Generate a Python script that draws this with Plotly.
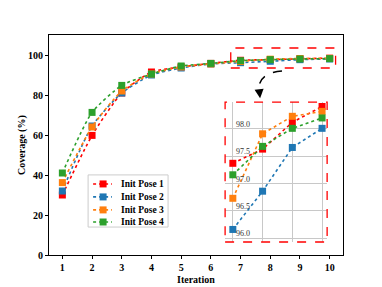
import plotly.graph_objects as go

iterations = [1, 2, 3, 4, 5, 6, 7, 8, 9, 10]
pose1 = [30.0, 59.8, 81.0, 91.5, 94.0, 95.8, 97.37, 97.63, 98.12, 98.41]
pose2 = [32.0, 64.5, 81.0, 90.0, 93.5, 95.5, 96.16, 96.86, 97.66, 98.01]
pose3 = [36.2, 64.0, 82.0, 90.5, 94.0, 95.5, 96.73, 97.91, 98.23, 98.32]
pose4 = [41.0, 71.3, 84.8, 90.5, 94.5, 95.8, 97.16, 97.68, 98.01, 98.20]
names = ["Init Pose 1", "Init Pose 2", "Init Pose 3", "Init Pose 4"]
colors = ["#ff0000", "#1f77b4", "#ff7f0e", "#2ca02c"]
series = [pose1, pose2, pose3, pose4]
inset_ticks = [96.0, 96.5, 97.0, 97.5, 98.0]
main_yticks = [0, 20, 40, 60, 80, 100]

FONT = "Liberation Serif"
fig = go.Figure()
for name, col, ys in zip(names, colors, series):
    fig.add_trace(go.Scatter(
        x=iterations, y=ys, name=name, mode="lines+markers", showlegend=False,
        line=dict(color=col, width=1.6, dash="dot", shape="spline", smoothing=0.6),
        marker=dict(symbol="square", size=7, color=col),
        xaxis="x", yaxis="y"))
for name, col, ys in zip(names, colors, series):
    fig.add_trace(go.Scatter(
        x=iterations[6:], y=ys[6:], name=name, mode="lines+markers", showlegend=False,
        line=dict(color=col, width=1.6, dash="dot"),
        marker=dict(symbol="square", size=7, color=col),
        xaxis="x2", yaxis="y2"))

axis_common = dict(showline=True, linecolor="black", linewidth=1, mirror=True,
                   ticks="outside", ticklen=3, tickcolor="black", showgrid=False,
                   zeroline=False, automargin=False,
                   tickfont=dict(family=FONT, size=10, color="black", weight="bold"))

# page body has an 8px margin, so the figure is offset by 8px
fig.update_layout(
    width=374, height=279,
    margin=dict(l=41, r=39, t=27, b=32),
    paper_bgcolor="white", plot_bgcolor="white",
    font=dict(family=FONT, color="black"),
    showlegend=False,
    xaxis=dict(range=[0.55, 10.45], tickvals=iterations, **axis_common),
    yaxis=dict(range=[0, 110], tickvals=main_yticks, **axis_common),
    xaxis2=dict(domain=[0.599, 0.946], anchor="y2", range=[6.74, 10.17],
                tickvals=[7, 8, 9, 10], showticklabels=False, showgrid=True,
                gridcolor="#c8c8c8", gridwidth=1, zeroline=False, showline=False, ticks=""),
    yaxis2=dict(domain=[0.059, 0.695], anchor="x2", range=[95.93, 98.49],
                tickvals=inset_ticks, showticklabels=False, showgrid=True,
                gridcolor="#c8c8c8", gridwidth=1, zeroline=False, showline=False, ticks=""),
)

# axis titles
fig.add_annotation(x=0.5, y=-0.11, xref="paper", yref="paper", text="Iteration", showarrow=False,
                   xanchor="center", yanchor="middle",
                   font=dict(family=FONT, size=10, color="black", weight="bold"))
fig.add_annotation(x=-0.092, y=0.5, xref="paper", yref="paper", text="Coverage (%)", showarrow=False,
                   xanchor="center", yanchor="middle", textangle=-90,
                   font=dict(family=FONT, size=10, color="black", weight="bold"))

# inset tick labels inside
for v in inset_ticks:
    fig.add_annotation(x=7, y=v, xref="x2", yref="y2", text=f"{v:.1f}", showarrow=False,
                       xanchor="left", yanchor="bottom", xshift=1, yshift=-2,
                       font=dict(family=FONT, size=8, color="#333333"))

# inset border
fig.add_shape(type="rect", xref="x2 domain", yref="y2 domain", x0=0, x1=1, y0=0, y1=1,
              line=dict(color="red", width=1.3, dash="dash"), fillcolor="rgba(0,0,0,0)")
# zoom box on main plot
fig.add_shape(type="rect", xref="x", yref="y", x0=6.67, x1=10.2, y0=93.5, y1=103.5,
              line=dict(color="red", width=1.3, dash="dash"), fillcolor="rgba(0,0,0,0)")
# curved dashed arrow
fig.add_shape(type="path", xref="paper", yref="paper",
              path="M 0.7925,0.836 Q 0.711,0.827 0.714,0.75",
              line=dict(color="black", width=1.5, dash="dash"))
fig.add_annotation(x=0.718, y=0.712, xref="paper", yref="paper", ax=-1, ay=-9,
                   text="", showarrow=True, arrowhead=2, arrowsize=1.3, arrowwidth=1.4,
                   arrowcolor="black")

# compact legend
fig.add_shape(type="rect", xref="paper", yref="paper", x0=0.133, x1=0.405, y0=0.127, y1=0.364,
              line=dict(color="#cccccc", width=1), fillcolor="white", layer="above")
leg_y = [0.323, 0.264, 0.205, 0.150]
hx, hy = 0.0119, 0.0159
for name, col, ly in zip(names, colors, leg_y):
    fig.add_shape(type="line", xref="paper", yref="paper", x0=0.150, x1=0.214, y0=ly, y1=ly,
                  line=dict(color=col, width=1.6, dash="dot"))
    fig.add_shape(type="rect", xref="paper", yref="paper", x0=0.184 - hx, x1=0.184 + hx,
                  y0=ly - hy, y1=ly + hy, line=dict(color=col, width=0), fillcolor=col)
    fig.add_annotation(x=0.238, y=ly, xref="paper", yref="paper", text=name, showarrow=False,
                       xanchor="left", yanchor="middle",
                       font=dict(family=FONT, size=9.5, color="black", weight="bold"))

fig.write_html("out.html")
